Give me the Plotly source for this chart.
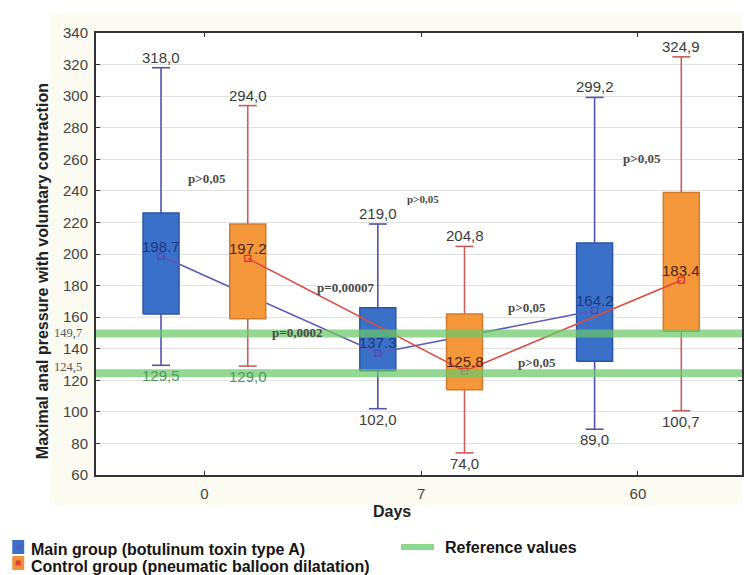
import plotly.graph_objects as go

# ---------------- data ----------------
days = ["0", "7", "60"]

main_max = [318.0, 219.0, 299.2]
main_q3 = [226.0, 166.0, 207.0]
main_mean = [198.7, 137.3, 164.2]
main_q1 = [162.0, 126.0, 132.0]
main_min = [129.5, 102.0, 89.0]

ctrl_max = [294.0, 204.8, 324.9]
ctrl_q3 = [219.0, 162.0, 239.0]
ctrl_mean = [197.2, 125.8, 183.4]
ctrl_q1 = [159.0, 114.0, 151.0]
ctrl_min = [129.0, 74.0, 100.7]

ref_values = [149.7, 124.5]

p_labels = ["p>0,05", "p>0,05", "p>0,05", "p=0,00007", "p=0,0002", "p>0,05", "p>0,05"]

# ---------------- layout constants ----------------
W, H = 744, 575
ML, MR, MT, MB = 96, 0, 33, 100
PW, PH = W - ML - MR, H - MT - MB
OFF = 0.2
BOXW = 0.166
CAPW = 0.083

idx = list(range(len(days)))
main_x = [i - OFF for i in idx]
ctrl_x = [i + OFF for i in idx]


def px(xp):
    return (xp - ML) / PW


def py(yp):
    return (H - MB - yp) / PH


def box_path(cx, lo, hi, w):
    xs, ys = [], []
    for c, l, h in zip(cx, lo, hi):
        xs += [c - w / 2, c + w / 2, c + w / 2, c - w / 2, c - w / 2, None]
        ys += [l, l, h, h, l, None]
    return xs, ys


def whisker_path(cx, q1, q3, mn, mx, cw):
    xs, ys = [], []
    for c, a, b, lo, hi in zip(cx, q1, q3, mn, mx):
        xs += [c, c, None, c, c, None, c - cw / 2, c + cw / 2, None, c - cw / 2, c + cw / 2, None]
        ys += [b, hi, None, a, lo, None, hi, hi, None, lo, lo, None]
    return xs, ys


fig = go.Figure()

groups = [
    dict(x=main_x, q1=main_q1, q3=main_q3, mn=main_min, mx=main_max, mean=main_mean,
         fill="#3a70c8", edge="#2b56a6", wh="#5252ad", line="#5a5ab8", msym="square-open",
         mcol="#4b4bb0", lab="#1d3780"),
    dict(x=ctrl_x, q1=ctrl_q1, q3=ctrl_q3, mn=ctrl_min, mx=ctrl_max, mean=ctrl_mean,
         fill="#f5973b", edge="#cf7c2c", wh="#c4605a", line="#de4a40", msym="square-open",
         mcol="#d8302a", lab="#4a2418"),
]

for g in groups:
    wx, wy = whisker_path(g["x"], g["q1"], g["q3"], g["mn"], g["mx"], CAPW)
    fig.add_trace(go.Scatter(x=wx, y=wy, mode="lines", line=dict(color=g["wh"], width=1.6),
                             hoverinfo="skip", showlegend=False))
    bx, by = box_path(g["x"], g["q1"], g["q3"], BOXW)
    fig.add_trace(go.Scatter(x=bx, y=by, mode="lines", fill="toself", fillcolor=g["fill"],
                             line=dict(color=g["edge"], width=1.5), hoverinfo="skip",
                             showlegend=False))
    fig.add_trace(go.Scatter(x=g["x"], y=g["mean"], mode="lines+markers",
                             line=dict(color=g["line"], width=1.6),
                             marker=dict(symbol=g["msym"], size=6, color=g["mcol"],
                                         line=dict(width=1.3, color=g["mcol"])),
                             showlegend=False))

shapes = []
# faint cream frame behind the chart (outside the white plot area)
cream = "#fcfbf1"
for (x0, x1, y0, y1) in [(50, ML, 13, 505), (ML, W, 13, MT), (ML, W, H - MB, 505)]:
    shapes.append(dict(type="rect", xref="paper", yref="paper", x0=px(x0), x1=px(x1),
                       y0=py(y1), y1=py(y0), fillcolor=cream, line=dict(width=0),
                       layer="below"))
# reference bands
for rv in ref_values:
    shapes.append(dict(type="line", xref="x domain", yref="y", x0=0, x1=1, y0=rv, y1=rv,
                       line=dict(color="rgba(105,200,105,0.72)", width=8), layer="above"))

annotations = []
lab_font = dict(family="Arial, Liberation Sans, sans-serif", size=15, color="#3c3c3c")


def fmt_c(v):
    return f"{v:.1f}".replace(".", ",")


for g in groups:
    for c, mx, mn, mean in zip(g["x"], g["mx"], g["mn"], g["mean"]):
        annotations.append(dict(x=c, y=mx, text=fmt_c(mx), showarrow=False, yanchor="bottom",
                                xanchor="center", font=lab_font))
        low_col = "#4e9a5c" if abs(mn - ref_values[1]) < 8 else "#3c3c3c"
        annotations.append(dict(x=c, y=mn, text=fmt_c(mn), showarrow=False, yanchor="top",
                                xanchor="center", font=dict(lab_font, color=low_col)))
        annotations.append(dict(x=c, y=mean, text=f"{mean:.1f}", showarrow=False,
                                yanchor="middle", xanchor="center", yshift=10,
                                font=dict(family="Arial, Liberation Sans, sans-serif", size=15,
                                          color=g["lab"])))

# reference value labels on the left
for rv, ys in zip(ref_values, [0, 6]):
    annotations.append(dict(xref="paper", x=px(84), y=rv, yshift=ys, text=fmt_c(rv),
                            showarrow=False, xanchor="right", yanchor="middle",
                            font=dict(family="Liberation Serif, Times New Roman, serif",
                                      size=12.5, color="#555")))

# p-value labels
p_pos = [(0.01, 248.0, 13), (1.01, 234.6, 11), (2.02, 260.6, 13), (0.65, 178.7, 13),
         (0.427, 150.0, 13), (1.487, 166.2, 13), (1.535, 131.3, 13)]
for t, (xx, yy, fs) in zip(p_labels, p_pos):
    annotations.append(dict(x=xx, y=yy, text=f"<b>{t}</b>", showarrow=False,
                            xanchor="center", yanchor="middle",
                            font=dict(family="Liberation Serif, Times New Roman, serif",
                                      size=fs, color="#4a4a4a")))

# axis titles
title_font = dict(family="Arial, Liberation Sans, sans-serif", size=16, color="#222")
annotations.append(dict(xref="paper", yref="paper", x=px(42), y=py(271),
                        xanchor="center", yanchor="middle",
                        text="<b>Maximal anal pressure with voluntary contraction</b>",
                        textangle=-90, showarrow=False, font=title_font))
annotations.append(dict(xref="paper", yref="paper", x=px(393), y=py(512), text="<b>Days</b>",
                        xanchor="center", yanchor="middle", showarrow=False,
                        font=title_font))

# legend
leg_font = dict(family="Arial, Liberation Sans, sans-serif", size=16, color="#151515")
shapes.append(dict(type="rect", xref="paper", yref="paper", x0=px(12), x1=px(24),
                   y0=py(554), y1=py(540), fillcolor="#3a70c8", line=dict(width=0)))
shapes.append(dict(type="rect", xref="paper", yref="paper", x0=px(12), x1=px(24),
                   y0=py(570), y1=py(556), fillcolor="#f0913a", line=dict(width=0)))
shapes.append(dict(type="rect", xref="paper", yref="paper", x0=px(15.5), x1=px(20.5),
                   y0=py(549.5), y1=py(544.5), fillcolor="#4d62c0", line=dict(width=0)))
shapes.append(dict(type="rect", xref="paper", yref="paper", x0=px(15.5), x1=px(20.5),
                   y0=py(565.5), y1=py(560.5), fillcolor="#e0402e", line=dict(width=0)))
shapes.append(dict(type="line", xref="paper", yref="paper", x0=px(402), x1=px(435),
                   y0=py(547), y1=py(547), line=dict(color="#8fd88f", width=6)))
annotations.append(dict(xref="paper", yref="paper", x=px(29), y=py(549), xanchor="left",
                        yanchor="middle",
                        text="<b>Main group (botulinum toxin type A)</b>", showarrow=False,
                        font=leg_font))
annotations.append(dict(xref="paper", yref="paper", x=px(29), y=py(566), xanchor="left",
                        yanchor="middle",
                        text="<b>Control group (pneumatic balloon dilatation)</b>",
                        showarrow=False, font=leg_font))
annotations.append(dict(xref="paper", yref="paper", x=px(444), y=py(547), xanchor="left",
                        yanchor="middle",
                        text="<b>Reference values</b>", showarrow=False, font=leg_font))

fig.update_layout(
    width=W, height=H,
    margin=dict(l=ML, r=MR, t=MT, b=MB),
    paper_bgcolor="white", plot_bgcolor="white",
    shapes=shapes, annotations=annotations, showlegend=False,
    xaxis=dict(range=[-0.5, 2.48], tickvals=idx, ticktext=days, ticks="inside", ticklen=4,
               tickcolor="#333", showline=True, linecolor="#333", linewidth=2, mirror="ticks",
               showgrid=False, zeroline=False, ticklabelstandoff=4,
               tickfont=dict(family="Arial, Liberation Sans, sans-serif", size=15,
                             color="#444")),
    yaxis=dict(range=[60, 340], dtick=20, ticks="inside", ticklen=4, tickcolor="#333",
               showline=True, linecolor="#333", linewidth=2, mirror="ticks",
               gridcolor="#e2e2e2", gridwidth=1, zeroline=False, ticklabelstandoff=3,
               tickfont=dict(family="Arial, Liberation Sans, sans-serif", size=15,
                             color="#444")),
)

fig.write_html("out.html")
